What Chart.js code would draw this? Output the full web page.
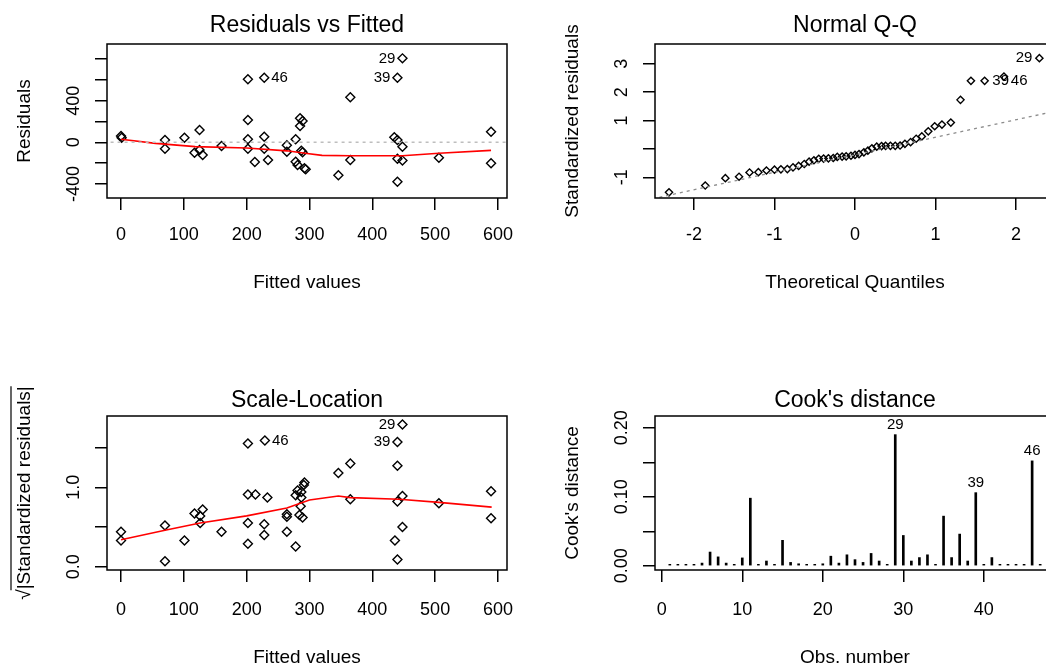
<!DOCTYPE html>
<html>
<head>
<meta charset="utf-8">
<script src="https://cdn.jsdelivr.net/npm/chart.js@4.4.1/dist/chart.umd.min.js"></script>
<style>
  html, body { margin: 0; padding: 0; background: #fff; overflow: hidden; }
  body { position: relative; width: 1046px; height: 668px; }
  canvas { position: absolute; }
</style>
</head>
<body>
<canvas id="resChart" width="548" height="334" style="left:0;top:0"></canvas>
<canvas id="qqChart" width="548" height="334" style="left:548px;top:0"></canvas>
<canvas id="slChart" width="548" height="334" style="left:0;top:372px"></canvas>
<canvas id="cookChart" width="548" height="334" style="left:548px;top:372px"></canvas>
<script>
const FONT = "'Liberation Sans', Arial, sans-serif";

// Residuals vs Fitted
const resFitted = [0, 1, 70, 70, 101, 125, 117, 125, 130, 160, 202, 228, 202, 202, 202, 213, 228, 228, 234, 264,
    264, 278, 278, 281, 285, 289, 285, 287, 289, 292, 294, 365, 365, 346, 448, 440, 435, 440, 448, 440,
    448, 440, 506, 589, 589];
const resValues = [60, 44, 22, -61, 44, 118, -100, -74, -122, -36, 605, 620, 214, 29, -61, -189, 54, -61, -170, -29,
    -90, 29, -186, -218, 230, 204, 156, -81, -96, -250, -260, 432, -170, -317, 806, 620, 48, 22, -42, -157,
    -176, -378, -148, 102, -202];
const resSmoothX = [0, 55, 118, 200, 264, 293, 320, 365, 448, 506, 589];
const resSmoothY = [29, -10, -42, -55, -82, -106, -126, -129, -129, -105, -78];
const resTicksX = [0, 100, 200, 300, 400, 500, 600];
const resTicksY = [-400, -200, 0, 200, 400, 600, 800];
const resTickLabelsY = ['-400', '', '0', '', '400', '', ''];
const resLabels = [['46', 228, 620, 'right'], ['29', 448, 806, 'left'], ['39', 440, 620, 'left']];

// Normal Q-Q
const qqTheoretical = [-2.31, -1.86, -1.61, -1.44, -1.31, -1.20, -1.10, -1.00, -0.92, -0.84, -0.77, -0.70, -0.63, -0.57,
    -0.51, -0.45, -0.39, -0.33, -0.27, -0.22, -0.16, -0.11, -0.05, 0.00, 0.05, 0.11, 0.16, 0.21, 0.27, 0.33,
    0.38, 0.44, 0.50, 0.56, 0.62, 0.69, 0.76, 0.83, 0.91, 0.99, 1.08, 1.19, 1.31, 1.44, 1.61, 1.85, 2.29];
const qqResiduals = [-1.53, -1.29, -1.03, -0.98, -0.83, -0.82, -0.76, -0.73, -0.72, -0.71, -0.65, -0.60, -0.53, -0.45,
    -0.40, -0.35, -0.34, -0.33, -0.32, -0.28, -0.27, -0.26, -0.24, -0.21, -0.18, -0.12, -0.06, 0.02, 0.08, 0.10,
    0.11, 0.11, 0.11, 0.12, 0.18, 0.24, 0.36, 0.44, 0.62, 0.80, 0.86, 0.93, 1.73, 2.40, 2.40, 2.55, 3.20];
const qqLineX = [-2.6, 2.6];
const qqLineY = [-1.81, 1.40];
const qqTicksX = [-2, -1, 0, 1, 2];
const qqTicksY = [-1, 0, 1, 2, 3];
const qqTickLabelsY = ['-1', '', '1', '2', '3'];
const qqLabels = [['29', 2.29, 3.20, 'left'], ['39', 2.00, 2.41, 'left'], ['46', 2.23, 2.41, 'left']];

// Scale-Location
const slFitted = [0, 0, 70, 70, 101, 117, 126, 130, 126, 160, 202, 229, 202, 214, 233, 202, 202, 228, 228, 264,
    264, 264, 278, 278, 281, 287, 292, 291, 287, 286, 284, 289, 346, 365, 365, 448, 440, 440, 448, 440,
    448, 436, 440, 506, 589, 589];
const slValues = [0.44, 0.33, 0.52, 0.07, 0.33, 0.67, 0.64, 0.72, 0.55, 0.44, 1.55, 1.59, 0.91, 0.91, 0.87, 0.55, 0.29, 0.535, 0.40, 0.66,
    0.63, 0.44, 0.255, 0.90, 0.96, 0.94, 1.06, 1.03, 0.87, 0.76, 0.65, 0.62, 1.18, 1.30, 0.85, 1.79, 1.57, 1.27, 0.89, 0.82,
    0.50, 0.33, 0.09, 0.80, 0.95, 0.61];
const slSmoothX = [0, 70, 126, 200, 264, 300, 346, 365, 443, 506, 590];
const slSmoothY = [0.34, 0.46, 0.55, 0.64, 0.74, 0.84, 0.89, 0.87, 0.85, 0.81, 0.75];
const slTicksY = [0, 0.5, 1, 1.5];
const slTickLabelsY = ['0.0', '', '1.0', ''];
const slLabels = [['46', 229, 1.59, 'right'], ['29', 448, 1.79, 'left'], ['39', 440, 1.57, 'left']];

// Cook's distance
const cookObs = [];
for (let i = 1; i <= 47; i++) cookObs.push(i);
const cookValues = [0.001, 0.001, 0.001, 0.001, 0.004, 0.020, 0.013, 0.004, 0.001, 0.0115,
    0.098, 0.001, 0.007, 0.001, 0.037, 0.005, 0.003, 0.001, 0.001, 0.003,
    0.014, 0.004, 0.016, 0.009, 0.005, 0.018, 0.007, 0.001, 0.190, 0.044,
    0.007, 0.012, 0.016, 0.001, 0.072, 0.012, 0.046, 0.007, 0.106, 0.001,
    0.012, 0.001, 0.001, 0.001, 0.001, 0.152, 0.001];
const cookTicksX = [0, 10, 20, 30, 40];
const cookTicksY = [0, 0.05, 0.10, 0.15, 0.20];
const cookTickLabelsY = ['0.00', '', '0.10', '', '0.20'];
const cookLabels = [['29', 29, 0.190, 'above'], ['39', 39, 0.106, 'above'], ['46', 46, 0.152, 'above']];

function toXY(xs, ys) {
    let pts = [];
    for (let i = 0; i < xs.length; i++) {
        pts.push({ x: xs[i], y: ys[i] });
    }
    return pts;
}

// draws the box, the rotated y tick labels and the id labels, the way R does
const rPlot = {
    id: 'rPlot',
    afterDraw(chart, args, opts) {
        const ctx = chart.ctx;
        const a = chart.chartArea;
        const xs = chart.scales.x;
        const ys = chart.scales.y;
        ctx.save();
        ctx.strokeStyle = '#000';
        ctx.lineWidth = 1.5;
        ctx.strokeRect(a.left, a.top, a.right - a.left, a.bottom - a.top);

        ctx.fillStyle = '#000';
        ctx.font = '18px ' + FONT;
        ctx.textAlign = 'center';
        ctx.textBaseline = 'middle';
        for (let i = 0; i < opts.yTicks.length; i++) {
            if (!opts.yLabels[i]) continue;
            ctx.save();
            ctx.translate(a.left - 33, ys.getPixelForValue(opts.yTicks[i]));
            ctx.rotate(-Math.PI / 2);
            ctx.fillText(opts.yLabels[i], 0, 0);
            ctx.restore();
        }

        // overbar of the square root in the y title
        if (opts.sqrtBar) {
            ctx.font = '19px ' + FONT;
            let full = ctx.measureText(ys.options.title.text).width;
            let root = ctx.measureText('\u221A').width;
            let cy = (a.top + a.bottom) / 2;
            ctx.lineWidth = 1.2;
            ctx.beginPath();
            ctx.moveTo(11, cy + full / 2 - root + 1);
            ctx.lineTo(11, cy - full / 2);
            ctx.stroke();
        }

        ctx.font = '15px ' + FONT;
        (opts.labels || []).forEach(function (lab) {
            let px = xs.getPixelForValue(lab[1]);
            let py = ys.getPixelForValue(lab[2]);
            if (lab[3] == 'right') {
                ctx.textAlign = 'left';
                ctx.fillText(lab[0], px + 7, py);
            } else if (lab[3] == 'left') {
                ctx.textAlign = 'right';
                ctx.fillText(lab[0], px - 7, py);
            } else {
                ctx.textAlign = 'center';
                ctx.fillText(lab[0], px, py - 10);
            }
        });
        ctx.restore();
    }
};

// shift moves the texts of a row down a little without moving the plot box
function makeScales(xMin, xMax, xTicks, xTitle, yMin, yMax, yTicks, yTitle, shift) {
    return {
        x: {
            type: 'linear', min: xMin, max: xMax, offset: false,
            afterBuildTicks: s => { s.ticks = xTicks.map(v => ({ value: v })); },
            afterFit: s => { s.height = 136; },
            border: { display: false },
            grid: { offset: false, drawOnChartArea: false, drawTicks: true, tickLength: 12, color: '#000', lineWidth: 1.5 },
            ticks: { color: '#000', font: { family: FONT, size: 18 }, padding: 14 + shift, maxRotation: 0, autoSkip: false,
                callback: v => String(v) },
            title: { display: true, text: xTitle, color: '#000', font: { family: FONT, size: 19 },
                padding: { top: 0, bottom: 40 - shift } }
        },
        y: {
            type: 'linear', min: yMin, max: yMax,
            afterBuildTicks: s => { s.ticks = yTicks.map(v => ({ value: v })); },
            afterFit: s => { s.width = 107; },
            border: { display: false },
            grid: { drawOnChartArea: false, drawTicks: true, tickLength: 12, color: '#000', lineWidth: 1.5 },
            ticks: { display: false },
            title: { display: true, text: yTitle, color: '#000', font: { family: FONT, size: 19 },
                padding: { top: 13.6, bottom: 0 } }
        }
    };
}

function baseOptions(title, scales, yTicks, yLabels, labels, shift, sqrtBar) {
    return {
        responsive: false,
        animation: false,
        layout: { padding: { left: 0, right: 41, top: 0, bottom: 0 } },
        plugins: {
            legend: { display: false },
            tooltip: { enabled: false },
            title: {
                display: true, text: title, fullSize: false, color: '#000',
                font: { family: FONT, size: 23, weight: 'normal' },
                padding: { top: 12.2 + shift, bottom: 4.2 - shift }
            },
            rPlot: { yTicks: yTicks, yLabels: yLabels, labels: labels, sqrtBar: !!sqrtBar }
        },
        scales: scales
    };
}

function pointSet(xs, ys, radius) {
    return {
        type: 'scatter',
        data: toXY(xs, ys),
        pointStyle: 'rectRot',
        radius: radius,
        borderColor: '#000',
        borderWidth: 1.4,
        backgroundColor: 'rgba(0,0,0,0)',
        showLine: false
    };
}

function lineSet(xs, ys, color, width, dash) {
    return {
        type: 'line',
        data: toXY(xs, ys),
        borderColor: color,
        borderWidth: width,
        borderDash: dash,
        pointRadius: 0,
        fill: false,
        tension: 0
    };
}

new Chart(document.getElementById('resChart'), {
    type: 'scatter',
    data: {
        datasets: [
            lineSet([-50, 650], [0, 0], '#bebebe', 1.5, [3, 4]),
            lineSet(resSmoothX, resSmoothY, '#ff0000', 1.6, []),
            pointSet(resFitted, resValues, 4.5)
        ]
    },
    options: baseOptions('Residuals vs Fitted',
        makeScales(-22.3, 614.4, resTicksX, 'Fitted values', -535, 944, resTicksY, 'Residuals', 0),
        resTicksY, resTickLabelsY, resLabels, 0),
    plugins: [rPlot]
});

new Chart(document.getElementById('qqChart'), {
    type: 'scatter',
    data: {
        datasets: [
            lineSet(qqLineX, qqLineY, '#8c8c8c', 1.3, [3, 4]),
            pointSet(qqTheoretical, qqResiduals, 3.6)
        ]
    },
    options: baseOptions('Normal Q-Q',
        makeScales(-2.484, 2.484, qqTicksX, 'Theoretical Quantiles', -1.73, 3.70, qqTicksY, 'Standardized residuals', 0),
        qqTicksY, qqTickLabelsY, qqLabels, 0),
    plugins: [rPlot]
});

new Chart(document.getElementById('slChart'), {
    type: 'scatter',
    data: {
        datasets: [
            lineSet(slSmoothX, slSmoothY, '#ff0000', 1.6, []),
            pointSet(slFitted, slValues, 4.5)
        ]
    },
    options: baseOptions('Scale-Location',
        makeScales(-22.3, 614.4, resTicksX, 'Fitted values', -0.041, 1.897, slTicksY, '\u221A|Standardized residuals|', 3),
        slTicksY, slTickLabelsY, slLabels, 3, true),
    plugins: [rPlot]
});

new Chart(document.getElementById('cookChart'), {
    type: 'bar',
    data: {
        datasets: [{
            data: toXY(cookObs, cookValues),
            backgroundColor: '#000',
            barThickness: 2,
            minBarLength: 1.5
        }]
    },
    options: baseOptions("Cook's distance",
        makeScales(-0.84, 48.84, cookTicksX, 'Obs. number', -0.006, 0.217, cookTicksY, "Cook's distance", 3),
        cookTicksY, cookTickLabelsY, cookLabels, 3),
    plugins: [rPlot]
});
</script>
</body>
</html>
